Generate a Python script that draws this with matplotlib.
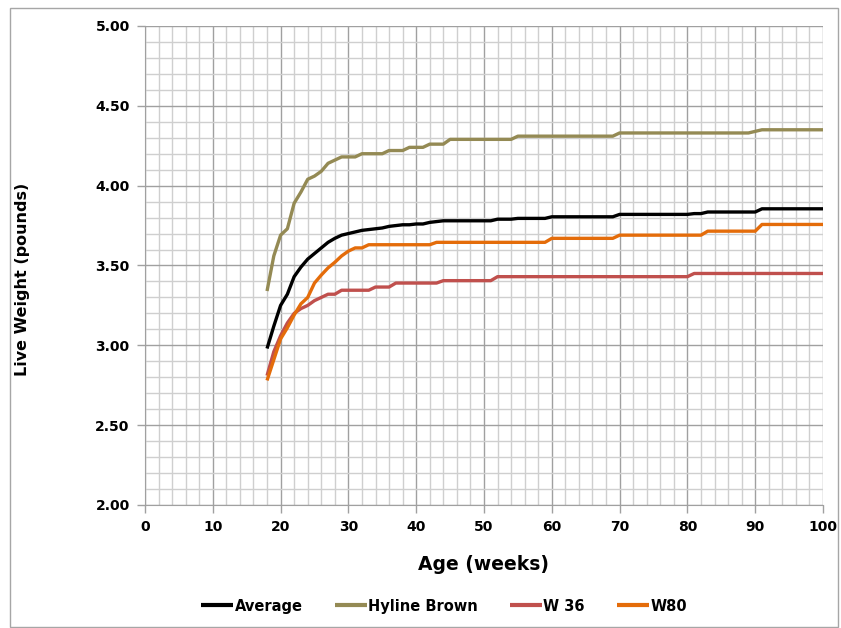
import matplotlib
matplotlib.use("Agg")
import matplotlib.pyplot as plt
from matplotlib.patches import Rectangle
from matplotlib.ticker import MultipleLocator

plt.rcParams['font.family'] = ['DejaVu Sans']

# age in weeks, 18..100
weeks = list(range(18, 101))

average = [
    2.98, 3.12, 3.25, 3.32, 3.43, 3.49, 3.54, 3.575, 3.61, 3.645,   # 18-27
    3.67, 3.69, 3.70, 3.71, 3.72, 3.725, 3.73, 3.735, 3.745, 3.75,  # 28-37
    3.755, 3.755, 3.76, 3.76, 3.77, 3.775, 3.78, 3.78, 3.78, 3.78,  # 38-47
    3.78, 3.78, 3.78, 3.78, 3.79, 3.79, 3.79, 3.795, 3.795, 3.795,  # 48-57
    3.795, 3.795, 3.805, 3.805, 3.805, 3.805, 3.805, 3.805, 3.805, 3.805,  # 58-67
    3.805, 3.805, 3.82, 3.82, 3.82, 3.82, 3.82, 3.82, 3.82, 3.82,   # 68-77
    3.82, 3.82, 3.82, 3.825, 3.825, 3.835, 3.835, 3.835, 3.835, 3.835,  # 78-87
    3.835, 3.835, 3.835, 3.855, 3.855, 3.855, 3.855, 3.855, 3.855, 3.855,  # 88-97
    3.855, 3.855, 3.855,  # 98-100
]

hyline = [
    3.34, 3.56, 3.69, 3.73, 3.89, 3.96, 4.04, 4.06, 4.09, 4.14,
    4.16, 4.18, 4.18, 4.18, 4.20, 4.20, 4.20, 4.20, 4.22, 4.22,
    4.22, 4.24, 4.24, 4.24, 4.26, 4.26, 4.26, 4.29, 4.29, 4.29,
    4.29, 4.29, 4.29, 4.29, 4.29, 4.29, 4.29, 4.31, 4.31, 4.31,
    4.31, 4.31, 4.31, 4.31, 4.31, 4.31, 4.31, 4.31, 4.31, 4.31,
    4.31, 4.31, 4.33, 4.33, 4.33, 4.33, 4.33, 4.33, 4.33, 4.33,
    4.33, 4.33, 4.33, 4.33, 4.33, 4.33, 4.33, 4.33, 4.33, 4.33,
    4.33, 4.33, 4.34, 4.35, 4.35, 4.35, 4.35, 4.35, 4.35, 4.35,
    4.35, 4.35, 4.35,
]

w36 = [
    2.81, 2.96, 3.06, 3.14, 3.20, 3.23, 3.25, 3.28, 3.30, 3.32,
    3.32, 3.345, 3.345, 3.345, 3.345, 3.345, 3.365, 3.365, 3.365, 3.39,
    3.39, 3.39, 3.39, 3.39, 3.39, 3.39, 3.405, 3.405, 3.405, 3.405,
    3.405, 3.405, 3.405, 3.405, 3.43, 3.43, 3.43, 3.43, 3.43, 3.43,
    3.43, 3.43, 3.43, 3.43, 3.43, 3.43, 3.43, 3.43, 3.43, 3.43,
    3.43, 3.43, 3.43, 3.43, 3.43, 3.43, 3.43, 3.43, 3.43, 3.43,
    3.43, 3.43, 3.43, 3.45, 3.45, 3.45, 3.45, 3.45, 3.45, 3.45,
    3.45, 3.45, 3.45, 3.45, 3.45, 3.45, 3.45, 3.45, 3.45, 3.45,
    3.45, 3.45, 3.45,
]

w80 = [
    2.78, 2.91, 3.04, 3.11, 3.19, 3.26, 3.30, 3.39, 3.44, 3.485,
    3.52, 3.56, 3.59, 3.61, 3.61, 3.63, 3.63, 3.63, 3.63, 3.63,
    3.63, 3.63, 3.63, 3.63, 3.63, 3.645, 3.645, 3.645, 3.645, 3.645,
    3.645, 3.645, 3.645, 3.645, 3.645, 3.645, 3.645, 3.645, 3.645, 3.645,
    3.645, 3.645, 3.67, 3.67, 3.67, 3.67, 3.67, 3.67, 3.67, 3.67,
    3.67, 3.67, 3.69, 3.69, 3.69, 3.69, 3.69, 3.69, 3.69, 3.69,
    3.69, 3.69, 3.69, 3.69, 3.69, 3.715, 3.715, 3.715, 3.715, 3.715,
    3.715, 3.715, 3.715, 3.757, 3.757, 3.757, 3.757, 3.757, 3.757, 3.757,
    3.757, 3.757, 3.757,
]

series = [
    ("Average", average, "#000000"),
    ("Hyline Brown", hyline, "#948A54"),
    ("W 36", w36, "#C0504D"),
    ("W80", w80, "#E46C0A"),
]

fig = plt.figure(figsize=(8.41, 6.28), dpi=100)
ax = fig.add_axes([0.1724, 0.1959, 0.8062, 0.7627])

# outer chart border
fig.patches.append(Rectangle((0.012, 0.002), 0.984, 0.986, transform=fig.transFigure,
                             fill=False, edgecolor="#a6a6a6", linewidth=1))

for name, vals, col in series:
    ax.plot(weeks, vals, color=col, linewidth=2.4, label=name, solid_capstyle="butt")

ax.set_xlim(0, 100)
ax.set_ylim(2.0, 5.0)
ax.xaxis.set_major_locator(MultipleLocator(10))
ax.xaxis.set_minor_locator(MultipleLocator(2))
ax.yaxis.set_major_locator(MultipleLocator(0.5))
ax.yaxis.set_minor_locator(MultipleLocator(0.1))
ax.set_yticklabels([f"{v:.2f}" for v in ax.get_yticks()])

ax.grid(which="minor", color="#cfcfcf", linewidth=1.0)
ax.grid(which="major", color="#a0a0a0", linewidth=1.0)
ax.set_axisbelow(True)

for s in ["top", "right"]:
    ax.spines[s].set_visible(False)
for s in ["left", "bottom"]:
    ax.spines[s].set_color("#a0a0a0")

ax.tick_params(which="major", length=6, color="#a0a0a0", width=1,
               labelsize=10, pad=5)
ax.tick_params(which="minor", length=0)
for lab in ax.get_xticklabels() + ax.get_yticklabels():
    lab.set_fontweight("bold")

ax.set_xlabel("Age (weeks)", fontsize=13.5, fontweight="bold")
ax.set_ylabel("Live Weight (pounds)", fontsize=11.5, fontweight="bold")
ax.xaxis.set_label_coords(0.5, -0.105)
ax.yaxis.set_label_coords(-0.17, 0.47)

fig.legend(loc="center", bbox_to_anchor=(0.528, 0.035), ncol=4, frameon=False,
           prop={"weight": "bold", "size": 10.5}, handlelength=2.2,
           handletextpad=0.1, columnspacing=2.2)
for line in fig.legends[0].get_lines():
    line.set_linewidth(3)

fig.savefig("out.png", dpi=100)
